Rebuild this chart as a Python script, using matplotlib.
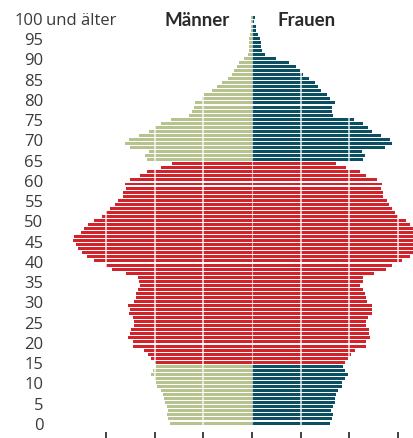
import matplotlib
matplotlib.use("Agg")
import matplotlib.pyplot as plt


# Bevoelkerung nach Alter, in Tausend (Alter 0 ... 100 und aelter)
ages = list(range(0, 101))

men = [
    337, 345, 349, 345, 349, 358, 362, 366, 374, 390,
    395, 399, 415, 407, 395, 399, 415, 427, 444, 489,
    489, 510, 501, 497, 485, 485, 489, 505, 501, 510,
    485, 477, 477, 468, 460, 464, 468, 518, 575, 600,
    649, 678, 699, 715, 723, 736, 732, 703, 690, 674,
    649, 616, 600, 584, 563, 551, 530, 530, 518, 522,
    501, 460, 432, 374, 329, 432, 440, 423, 501, 522,
    505, 464, 423, 399, 374, 333, 259, 247, 238, 234,
    205, 197, 164, 144, 123, 99, 82, 74, 62, 53,
    33, 16, 12, 12, 11, 11, 8, 5, 4, 3,
    4,
]

women = [
    321, 329, 333, 325, 333, 341, 341, 345, 353, 370,
    370, 382, 395, 382, 374, 382, 395, 407, 423, 468,
    468, 485, 481, 481, 468, 468, 477, 493, 493, 493,
    473, 468, 464, 456, 444, 456, 456, 501, 551, 575,
    616, 649, 668, 688, 698, 708, 705, 682, 668, 649,
    633, 600, 588, 575, 563, 555, 538, 538, 530, 534,
    514, 468, 444, 386, 345, 456, 464, 452, 547, 575,
    567, 530, 493, 477, 456, 419, 333, 329, 329, 341,
    321, 308, 284, 271, 259, 234, 208, 197, 181, 152,
    99, 53, 41, 37, 36, 33, 23, 16, 15, 7,
    14,
]

age_ticks = list(range(0, 101, 5))
age_labels = [str(a) for a in age_ticks]
x_ticks = [-600, -400, -200, 0, 200, 400, 600]

GREEN = "#b6c38e"
TEAL = "#0a5062"
RED = "#d2232b"
TEXT = "#3a3a3a"

W, H = 413, 439


def bar_colors(side_color):
    # working age (15-64) in red, the rest in the side colour
    return [RED if 15 <= a <= 64 else side_color for a in ages]


fig = plt.figure(figsize=(W / 100, H / 100), dpi=100)

# axes placed in pixel terms: left 56, right 413, top 10, bottom 433
ax = fig.add_axes([56 / W, (H - 433) / H, (413 - 56) / W, (433 - 10) / H])

ax.barh(ages, [-v for v in men], height=0.74, color=bar_colors(GREEN), linewidth=0)
ax.barh(ages, women, height=0.74, color=bar_colors(TEAL), linewidth=0)

for x in x_ticks:
    if x == 0:
        ax.axvline(x, color="white", lw=0.8, alpha=0.6, zorder=3)
    else:
        ax.axvline(x, color="white", lw=1.2, alpha=0.8, zorder=3)

ax.set_xlim(-805, 661)
ax.set_ylim(-2.22, 102.2)

for s in ax.spines.values():
    s.set_visible(False)

ax.set_xticks(x_ticks)
ax.set_xticklabels([])
ax.tick_params(axis="x", direction="out", length=5, width=1.3, color="#333333")

ax.set_yticks(age_ticks)
ax.set_yticklabels(age_labels, fontsize=12, color=TEXT, family=["Open Sans", "DejaVu Sans"])
ax.tick_params(axis="y", length=0, pad=9)

fig.text(46 / W, 1 - 19 / H, "und älter", fontsize=12, color=TEXT,
         family=["Open Sans", "DejaVu Sans"], ha="left", va="center_baseline")

fig.text(197 / W, 1 - 20 / H, "Männer", fontsize=13.5, fontweight="bold", color="#2a2a2a",
         family=["Lato", "DejaVu Sans"], ha="center", va="center")
fig.text(307 / W, 1 - 20 / H, "Frauen", fontsize=13.5, fontweight="bold", color="#2a2a2a",
         family=["Lato", "DejaVu Sans"], ha="center", va="center")

fig.savefig("out.png", dpi=100)
